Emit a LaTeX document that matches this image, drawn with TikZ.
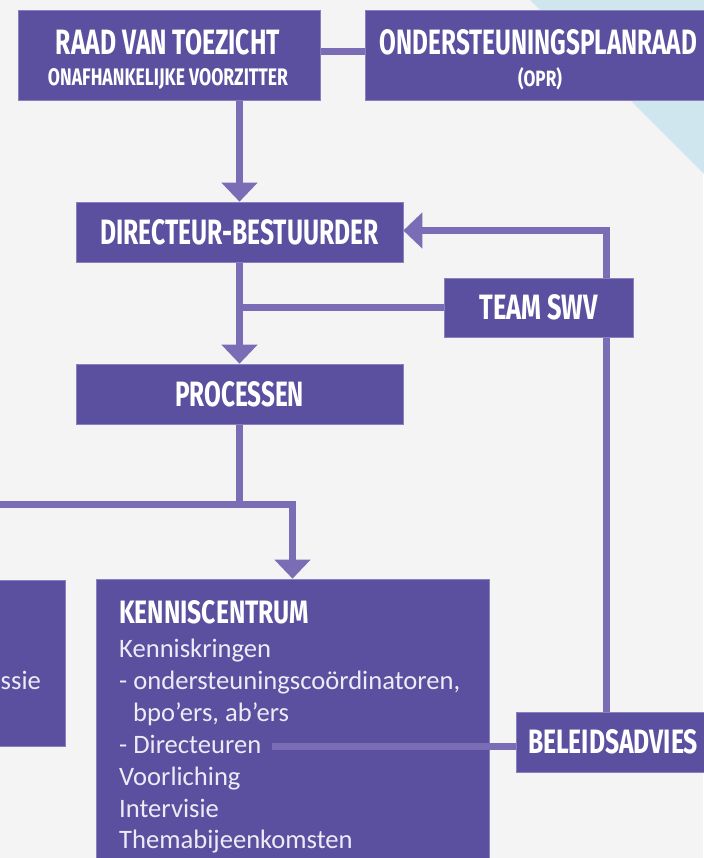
\documentclass[tikz,border=0pt]{standalone}
\usepackage{fontspec}
\usepackage{graphicx}
\setmainfont{Carlito}
\newfontfamily\ttlfont{Fira Sans}
\usetikzlibrary{arrows.meta}
\definecolor{boxc}{HTML}{5B50A0}
\definecolor{boxedge}{HTML}{8A80C0}
\definecolor{connc}{HTML}{7B6DB5}
\definecolor{bgc}{HTML}{F4F4F4}
\definecolor{bluec}{HTML}{D0E6EE}
\definecolor{bodyc}{HTML}{EEEBF6}
\pgfdeclarelayer{bg}
\pgfdeclarelayer{conn}
\pgfsetlayers{bg,conn,main}
\newcommand\ttl[3]{\resizebox{#1pt}{#2pt}{\ttlfont\bfseries #3}}
\begin{document}
\begin{tikzpicture}[x=1pt,y=-1pt,
  box/.style={fill=boxc, draw=boxedge, line width=0.6pt, inner sep=0pt, text=white},
  ttlnode/.style={inner sep=0pt, text=white},
  body/.style={inner sep=0pt, text=bodyc, font=\fontsize{26.6}{31}\selectfont, anchor=base west},
  conn/.style={draw=connc, line width=7pt},
  arr/.style={conn, -{Triangle[width=35pt,length=19pt]}}]
\useasboundingbox (0,0) rectangle (703,858);
\begin{pgfonlayer}{bg}
\fill[bgc] (0,0) rectangle (703,858);
\fill[bluec] (530,0) -- (720,0) -- (720,190) -- cycle;
\end{pgfonlayer}

% boxes
\node[box, minimum width=302pt, minimum height=90pt] (rvt) at (169,55) {};
\node[ttlnode, anchor=north] (rvtt) at (168,29) {\ttl{224}{25}{RAAD VAN TOEZICHT}};
\node[ttlnode, anchor=north] (rvts) at (168,68) {\ttl{240}{17}{ONAFHANKELIJKE VOORZITTER}};

\node[box, minimum width=347pt, minimum height=90pt] (opr) at (538.5,55) {};
\node[ttlnode, anchor=north] (oprt) at (538.5,29) {\ttl{317}{25}{ONDERSTEUNINGSPLANRAAD}};
\node[ttlnode, anchor=north] (oprs) at (540,67) {\ttl{44}{19}{(OPR)}};

\node[box, minimum width=327pt, minimum height=60pt] (db) at (239.5,232) {\ttl{278}{25}{DIRECTEUR-BESTUURDER}};
\node[box, minimum width=189pt, minimum height=59pt] (team) at (538.5,307.5) {\ttl{118}{25}{TEAM SWV}};
\node[box, minimum width=327pt, minimum height=60pt] (proc) at (239.5,394) {\ttl{129}{25}{PROCESSEN}};

\node[box, minimum width=300pt, minimum height=166pt] (lb) at (-85,663) {};
\node[body] (lbt) at (0.5,689) {ssie};

\node[box, minimum width=393pt, minimum height=301pt] (kc) at (292.5,729.5) {};
\node[ttlnode, anchor=north west] (kct) at (119,600) {\ttl{190}{23}{KENNISCENTRUM}};
\node[body] (l1) at (119,657) {Kenniskringen};
\node[body] (l2) at (119,689) {- ondersteuningscoördinatoren,};
\node[body] (l3) at (133,721) {bpo’ers, ab’ers};
\node[body] (l4) at (119,753) {- Directeuren};
\node[body] (l5) at (119,785) {Voorliching};
\node[body] (l6) at (119,817) {Intervisie};
\node[body] (l7) at (119,848) {Themabijeenkomsten};

\node[box, minimum width=194pt, minimum height=60pt] (bel) at (613,742) {\ttl{170}{24}{BELEIDSADVIES}};

% connectors
\begin{pgfonlayer}{conn}
\draw[conn] ([yshift=3pt]rvt.east) -- ([yshift=3pt]opr.west);
\draw[arr] (db.north |- rvt.south) -- (db.north);
\coordinate (loop) at (606,230.5);
\draw[arr] (loop |- bel.north) -- (loop) -- (db.east |- loop);
\draw[conn] (db.south |- team.west) -- (team.west);
\draw[arr] (db.south) -- (proc.north);
\coordinate (split) at (239.5,504);
\coordinate (leftend) at (-10,504);
\draw[conn] (proc.south) -- (split);
\draw[arr] (leftend) -- (kc.north |- split) -- (kc.north);
\end{pgfonlayer}
\coordinate (dirend) at (272,746);
\draw[conn] (dirend) -- (dirend -| bel.west);
\end{tikzpicture}
\end{document}
